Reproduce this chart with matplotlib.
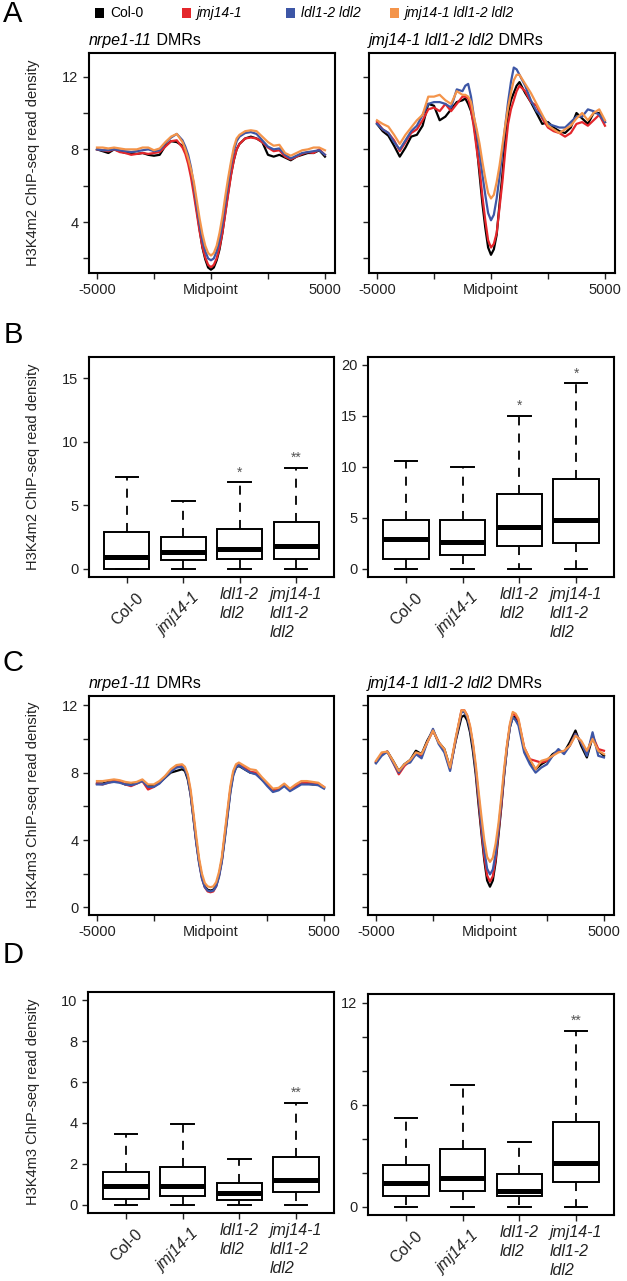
import numpy as np
import matplotlib
matplotlib.use('Agg')
import matplotlib.pyplot as plt
from matplotlib.patches import Rectangle
from matplotlib.transforms import ScaledTranslation

plt.rcParams['font.family'] = ['Liberation Sans', 'DejaVu Sans']

W, H = 627, 1281

# ---------------- data ----------------
genotypes = ['Col-0', 'jmj14-1', 'ldl1-2 ldl2', 'jmj14-1 ldl1-2 ldl2']
colors = ['#000000', '#e4262b', '#3d56a6', '#f4944a']

# profile positions (bp from DMR midpoint), finer around the midpoint
pos = [-5000, -4750, -4500, -4250, -4000, -3750, -3500, -3250, -3000, -2750, -2500, -2250, -2000, -1750, -1500,
       -1250, -1125, -1000, -875, -750, -625, -500, -375, -250, -125, 0, 125, 250, 375, 500, 625, 750, 875, 1000, 1125, 1250,
       1500, 1750, 2000, 2250, 2500, 2750, 3000, 3250, 3500, 3750, 4000, 4250, 4500, 4750, 5000]

# A, nrpe1-11 DMRs, H3K4m2
a_left = {
    'Col-0': [8.0, 7.9, 7.8, 8.0, 7.9, 7.8, 7.8, 7.75, 7.8, 7.7, 7.65, 7.7, 8.2, 8.45, 8.4,
              8.2, 7.9, 7.4, 6.7, 5.8, 4.7, 3.6, 2.6, 1.95, 1.5, 1.38, 1.5, 1.9, 2.5, 3.4, 4.5, 5.6, 6.6, 7.4, 8.0, 8.3,
              8.6, 8.7, 8.6, 8.4, 7.7, 7.6, 7.7, 7.55, 7.4, 7.6, 7.7, 7.8, 7.8, 7.95, 7.6],
    'jmj14-1': [8.0, 7.95, 7.9, 8.0, 7.85, 7.8, 7.7, 7.75, 7.8, 7.75, 7.8, 7.85, 8.15, 8.45, 8.5,
                8.1, 7.75, 7.2, 6.45, 5.5, 4.5, 3.5, 2.65, 2.05, 1.65, 1.52, 1.65, 2.0, 2.6, 3.4, 4.45, 5.5, 6.55, 7.4, 8.0, 8.3,
                8.6, 8.65, 8.6, 8.4, 8.1, 7.9, 7.95, 7.6, 7.45, 7.6, 7.75, 7.85, 7.8, 8.0, 7.7],
    'ldl1-2 ldl2': [8.0, 7.95, 7.95, 8.0, 7.95, 7.9, 7.85, 7.9, 7.95, 8.0, 7.9, 7.95, 8.35, 8.65, 8.85,
                    8.5, 8.15, 7.7, 7.0, 6.0, 4.9, 3.9, 3.0, 2.4, 2.0, 1.9, 2.0, 2.4, 3.0, 3.9, 5.0, 6.1, 7.1, 7.9, 8.45, 8.7,
                    8.9, 8.95, 8.85, 8.5, 8.15, 8.0, 8.05, 7.7, 7.5, 7.65, 7.8, 7.85, 7.9, 7.95, 7.7],
    'jmj14-1 ldl1-2 ldl2': [8.1, 8.1, 8.05, 8.1, 8.05, 8.0, 8.0, 8.0, 8.1, 8.1, 7.95, 8.05, 8.4, 8.7, 8.85,
                            8.4, 8.0, 7.5, 6.9, 6.2, 5.2, 4.2, 3.35, 2.7, 2.3, 2.16, 2.3, 2.7, 3.4, 4.3, 5.4, 6.4, 7.3, 8.1, 8.6, 8.8,
                            9.0, 9.05, 9.0, 8.7, 8.4, 8.2, 8.25, 7.8, 7.65, 7.8, 7.95, 8.0, 8.1, 8.1, 7.95],
}

# A, jmj14-1 ldl1-2 ldl2 DMRs, H3K4m2
a_right = {
    'Col-0': [9.4, 9.0, 8.75, 8.2, 7.6, 8.1, 8.7, 8.8, 9.3, 10.5, 10.4, 9.6, 9.8, 10.2, 10.6,
              10.7, 10.8, 10.5, 10.1, 9.4, 8.2, 6.6, 5.0, 3.7, 2.6, 2.2, 2.5, 3.3, 5.0, 6.6, 8.5, 10.0, 10.7, 11.1, 11.5, 11.7,
              11.1, 10.6, 10.0, 9.4, 9.5, 9.2, 9.0, 8.9, 9.2, 10.0, 9.7, 9.4, 10.0, 10.0, 9.5],
    'jmj14-1': [9.5, 9.1, 8.9, 8.5, 7.9, 8.4, 8.9, 9.1, 9.6, 10.2, 10.3, 10.1, 10.5, 10.1, 10.5,
                10.9, 10.9, 10.8, 10.2, 9.2, 8.0, 6.9, 5.4, 4.1, 3.0, 2.6, 2.8, 3.4, 4.8, 6.2, 7.9, 9.4, 10.2, 10.7, 11.2, 11.5,
                11.2, 10.6, 10.4, 9.7, 9.2, 9.0, 8.9, 8.7, 8.9, 9.4, 9.5, 9.3, 9.6, 9.9, 9.3],
    'ldl1-2 ldl2': [9.4, 9.1, 8.9, 8.4, 8.0, 8.5, 9.0, 9.3, 9.9, 10.5, 10.6, 10.6, 10.5, 10.3, 11.3,
                    11.2, 11.5, 11.6, 10.9, 9.8, 8.9, 7.8, 6.6, 5.5, 4.5, 4.1, 4.4, 5.3, 6.5, 7.9, 9.3, 10.6, 11.7, 12.5, 12.4, 12.1,
                    11.5, 10.7, 10.1, 9.8, 9.4, 9.3, 9.2, 9.2, 9.5, 9.8, 9.8, 10.2, 10.1, 9.9, 9.5],
    'jmj14-1 ldl1-2 ldl2': [9.6, 9.4, 9.25, 8.8, 8.3, 8.8, 9.2, 9.6, 9.9, 10.9, 10.9, 11.0, 10.7, 10.5, 11.2,
                            11.0, 11.0, 10.9, 10.6, 9.8, 9.1, 8.3, 7.3, 6.4, 5.6, 5.3, 5.5, 6.2, 7.1, 8.2, 9.3, 10.3, 11.1, 11.8, 12.1, 12.1,
                            11.6, 11.1, 10.5, 9.9, 9.3, 9.1, 8.9, 9.1, 9.3, 9.7, 10.0, 9.6, 10.0, 10.2, 9.6],
}

# C, nrpe1-11 DMRs, H3K4m3
c_left = {
    'Col-0': [7.35, 7.35, 7.45, 7.5, 7.45, 7.3, 7.3, 7.4, 7.55, 7.2, 7.2, 7.4, 7.7, 8.0, 8.1,
              8.2, 8.1, 7.6, 6.7, 5.3, 3.9, 2.7, 1.8, 1.25, 1.05, 1.0, 1.05, 1.3, 1.9, 2.8, 4.1, 5.5, 6.9, 7.9, 8.3, 8.4,
              8.2, 8.0, 7.95, 7.6, 7.3, 6.95, 7.0, 7.25, 6.95, 7.15, 7.35, 7.35, 7.3, 7.3, 7.1],
    'jmj14-1': [7.35, 7.3, 7.4, 7.5, 7.45, 7.3, 7.2, 7.35, 7.5, 7.0, 7.15, 7.4, 7.75, 8.1, 8.35,
                8.4, 8.25, 7.8, 6.8, 5.4, 3.9, 2.7, 1.75, 1.2, 0.95, 0.9, 0.95, 1.25, 1.9, 2.8, 4.2, 5.6, 7.0, 7.95, 8.4, 8.5,
                8.3, 8.05, 8.0, 7.65, 7.3, 6.9, 7.05, 7.3, 7.0, 7.2, 7.35, 7.4, 7.4, 7.35, 7.15],
    'ldl1-2 ldl2': [7.3, 7.3, 7.4, 7.45, 7.4, 7.3, 7.25, 7.35, 7.5, 7.15, 7.15, 7.35, 7.7, 8.05, 8.3,
                    8.35, 8.2, 7.7, 6.7, 5.3, 3.8, 2.6, 1.7, 1.2, 1.0, 0.95, 1.0, 1.25, 1.8, 2.7, 4.0, 5.4, 6.8, 7.8, 8.3, 8.45,
                    8.2, 8.0, 7.9, 7.6, 7.2, 6.85, 6.95, 7.2, 6.9, 7.1, 7.3, 7.3, 7.3, 7.25, 7.05],
    'jmj14-1 ldl1-2 ldl2': [7.5, 7.5, 7.55, 7.6, 7.55, 7.45, 7.4, 7.45, 7.6, 7.3, 7.3, 7.5, 7.8, 8.2, 8.45,
                            8.5, 8.35, 7.9, 7.0, 5.6, 4.2, 2.9, 2.0, 1.45, 1.25, 1.2, 1.25, 1.5, 2.1, 3.0, 4.4, 5.8, 7.2, 8.1, 8.5, 8.6,
                            8.4, 8.2, 8.15, 7.75, 7.4, 7.05, 7.1, 7.35, 7.05, 7.3, 7.5, 7.5, 7.45, 7.4, 7.15],
}

# C, jmj14-1 ldl1-2 ldl2 DMRs, H3K4m3
c_right = {
    'Col-0': [8.6, 9.1, 9.25, 8.7, 8.1, 8.5, 8.75, 9.3, 9.1, 9.9, 10.5, 9.8, 9.4, 8.3, 9.9,
              11.3, 11.4, 11.1, 10.4, 9.3, 7.9, 6.1, 4.4, 2.8, 1.6, 1.23, 1.6, 2.7, 4.3, 6.0, 7.9, 9.5, 10.7, 11.3, 11.3, 11.0,
              9.4, 8.7, 8.2, 8.5, 8.7, 9.1, 9.3, 9.2, 9.8, 10.5, 9.6, 8.9, 10.1, 9.3, 9.0],
    'jmj14-1': [8.65, 9.1, 9.25, 8.6, 7.9, 8.4, 8.7, 9.1, 9.0, 9.8, 10.5, 9.8, 9.3, 8.2, 10.0,
                11.7, 11.7, 11.4, 10.7, 9.7, 8.2, 6.4, 4.6, 3.0, 1.9, 1.53, 1.85, 2.9, 4.5, 6.1, 8.0, 9.6, 10.8, 11.5, 11.4, 11.1,
                9.5, 8.8, 8.7, 8.6, 8.7, 9.0, 9.3, 9.2, 9.6, 10.3, 9.8, 9.1, 10.2, 9.4, 9.3],
    'ldl1-2 ldl2': [8.55, 9.0, 9.25, 8.6, 8.0, 8.5, 8.6, 9.1, 8.85, 9.8, 10.6, 9.7, 9.2, 8.1, 10.0,
                    11.6, 11.6, 11.3, 10.6, 9.6, 8.2, 6.6, 4.9, 3.4, 2.3, 1.96, 2.25, 3.2, 4.7, 6.3, 8.0, 9.5, 10.7, 11.3, 11.1, 10.8,
                    9.2, 8.5, 8.0, 8.3, 8.5, 9.0, 9.4, 9.1, 9.6, 10.3, 9.8, 9.0, 10.4, 9.0, 8.9],
    'jmj14-1 ldl1-2 ldl2': [8.7, 9.2, 9.25, 8.7, 8.1, 8.5, 8.75, 9.2, 9.1, 9.8, 10.5, 9.8, 9.4, 8.3, 10.1,
                            11.7, 11.7, 11.4, 10.8, 9.8, 8.5, 6.9, 5.4, 4.0, 3.0, 2.7, 2.95, 3.8, 5.0, 6.6, 8.3, 9.7, 10.9, 11.6, 11.5, 11.2,
                            9.5, 8.8, 8.2, 8.7, 8.8, 9.0, 9.2, 9.3, 9.6, 10.2, 9.9, 9.3, 10.0, 9.3, 9.1],
}

# boxplot summaries: lower whisker, q1, median, q3, upper whisker
box_labels = ['Col-0', 'jmj14-1', 'ldl1-2\nldl2', 'jmj14-1\nldl1-2\nldl2']
b_left_whislo = [0, 0, 0, 0]
b_left_q1 = [0.0, 0.71, 0.76, 0.82]
b_left_med = [0.97, 1.37, 1.58, 1.84]
b_left_q3 = [2.9, 2.55, 3.16, 3.66]
b_left_whishi = [7.26, 5.34, 6.8, 7.95]
b_left_sig = ['', '', '*', '**']

b_right_whislo = [0, 0, 0, 0]
b_right_q1 = [0.95, 1.37, 2.19, 2.48]
b_right_med = [2.88, 2.61, 4.05, 4.74]
b_right_q3 = [4.77, 4.8, 7.32, 8.82]
b_right_whishi = [10.56, 9.93, 14.97, 18.17]
b_right_sig = ['', '', '*', '*']

d_left_whislo = [0, 0, 0, 0]
d_left_q1 = [0.29, 0.44, 0.25, 0.64]
d_left_med = [0.93, 0.93, 0.6, 1.21]
d_left_q3 = [1.59, 1.85, 1.05, 2.35]
d_left_whishi = [3.45, 3.94, 2.22, 5.0]
d_left_sig = ['', '', '', '**']

d_right_whislo = [0, 0, 0, 0]
d_right_q1 = [0.61, 0.94, 0.61, 1.42]
d_right_med = [1.4, 1.69, 0.94, 2.56]
d_right_q3 = [2.44, 3.41, 1.93, 4.98]
d_right_whishi = [5.22, 7.13, 3.82, 10.35]
d_right_sig = ['', '', '', '**']

fig = plt.figure(figsize=(W / 100, H / 100), dpi=100)


def add_ax(l, t, r, b):
    return fig.add_axes([l / W, 1 - b / H, (r - l) / W, (b - t) / H])


def style(ax):
    for s in ax.spines.values():
        s.set_linewidth(1.5)
    ax.tick_params(direction='out', length=4, width=1, labelsize=10.5, colors='#222222')


def profile(ax, data, ylim, yticks, ylabels, italic_title, show_labels=True):
    for g, c in zip(genotypes, colors):
        ax.plot(pos, data[g], color=c, lw=1.6)
    ax.set_xlim(-5350, 5440)
    ax.set_ylim(*ylim)
    ax.set_xticks([-5000, -2500, 0, 2500, 5000])
    ax.set_xticklabels(['-5000', '', 'Midpoint', '', '5000'])
    ax.set_yticks(yticks)
    ax.set_yticklabels(ylabels if show_labels else [''] * len(yticks))
    style(ax)
    # title: italic genotype + plain "DMRs"
    t1 = ax.text(0.0, 1.035, italic_title, transform=ax.transAxes, fontsize=11.5,
                 style='italic', ha='left', va='baseline')
    fig.canvas.draw()
    bb = t1.get_window_extent()
    x1 = ax.transAxes.inverted().transform((bb.x1, bb.y0))[0]
    ax.text(x1, 1.035, ' DMRs', transform=ax.transAxes, fontsize=11.5, ha='left', va='baseline')


def boxes(ax, whislo, q1, med, q3, whishi, sig, ylim, yticks, ylabels):
    stats = []
    for i in range(4):
        stats.append(dict(whislo=whislo[i], q1=q1[i], med=med[i], q3=q3[i], whishi=whishi[i], fliers=[]))
    ax.bxp(stats, positions=[1, 2, 3, 4], widths=0.8, showfliers=False, patch_artist=True,
           boxprops=dict(facecolor='white', edgecolor='black', linewidth=1.4),
           medianprops=dict(color='black', linewidth=3.6, solid_capstyle='butt'),
           whiskerprops=dict(color='black', linewidth=1.3, linestyle=(0, (5, 4.5))),
           capprops=dict(color='black', linewidth=1.4))
    for i, s in enumerate(sig):
        if s:
            ax.annotate(s, (i + 1, whishi[i]), xytext=(0, 2), textcoords='offset points',
                        ha='center', va='bottom', fontsize=10, color='#555555')
    ax.set_xlim(0.33, 4.67)
    ax.set_ylim(*ylim)
    ax.set_yticks(yticks)
    ax.set_yticklabels(ylabels)
    style(ax)
    ax.set_xticks([1, 2, 3, 4])
    ax.set_xticklabels(box_labels, fontsize=11.5)
    shift = ScaledTranslation(0.09, -0.03, fig.dpi_scale_trans)
    for i, lab in enumerate(ax.get_xticklabels()):
        if i > 0:
            lab.set_style('italic')
        if i < 2:
            lab.set_rotation(45)
            lab.set_rotation_mode('anchor')
            lab.set_ha('right')
            lab.set_va('top')
            lab.set_transform(lab.get_transform() + shift)
        else:
            lab.set_ha('center')
            lab.set_va('top')
            lab.set_multialignment('left')
            lab.set_linespacing(1.3)


# panel A
ax = add_ax(89, 53, 335, 273)
profile(ax, a_left, (1.2, 13.3), [2, 4, 6, 8, 10, 12], ['', '4', '', '8', '', '12'], 'nrpe1-11')
ax = add_ax(369, 53, 615, 273)
profile(ax, a_right, (1.2, 13.3), [2, 4, 6, 8, 10, 12], ['', '4', '', '8', '', '12'],
        'jmj14-1 ldl1-2 ldl2', show_labels=False)

# panel B
ax = add_ax(89, 357, 334, 577)
boxes(ax, b_left_whislo, b_left_q1, b_left_med, b_left_q3, b_left_whishi, b_left_sig,
      (-0.63, 16.65), [0, 5, 10, 15], ['0', '5', '10', '15'])
ax = add_ax(368, 357, 614, 577)
boxes(ax, b_right_whislo, b_right_q1, b_right_med, b_right_q3, b_right_whishi, b_right_sig,
      (-0.82, 20.75), [0, 5, 10, 15, 20], ['0', '5', '10', '15', '20'])

# panel C
ax = add_ax(89, 696, 334, 915)
profile(ax, c_left, (-0.45, 12.55), [0, 2, 4, 6, 8, 10, 12], ['0', '', '4', '', '8', '', '12'], 'nrpe1-11')
ax = add_ax(368, 696, 614, 915)
profile(ax, c_right, (-0.45, 12.55), [0, 2, 4, 6, 8, 10, 12], ['0', '', '4', '', '8', '', '12'],
        'jmj14-1 ldl1-2 ldl2', show_labels=False)

# panel D
ax = add_ax(88, 992, 334, 1213)
boxes(ax, d_left_whislo, d_left_q1, d_left_med, d_left_q3, d_left_whishi, d_left_sig,
      (-0.4, 10.4), [0, 2, 4, 6, 8, 10], ['0', '2', '4', '6', '8', '10'])
ax = add_ax(368, 994, 614, 1215)
boxes(ax, d_right_whislo, d_right_q1, d_right_med, d_right_q3, d_right_whishi, d_right_sig,
      (-0.5, 12.5), [0, 2, 4, 6, 8, 10, 12], ['0', '', '', '6', '', '', '12'])

# y labels and panel letters
for yc, txt in [(163, 'H3K4m2 ChIP-seq read density'), (467, 'H3K4m2 ChIP-seq read density'),
                (805, 'H3K4m3 ChIP-seq read density'), (1102, 'H3K4m3 ChIP-seq read density')]:
    fig.text(33 / W, 1 - yc / H, txt, rotation=90, ha='center', va='center', fontsize=10.5, color='#222222')

for yc, letter in [(14, 'A'), (335, 'B'), (663, 'C'), (955, 'D')]:
    fig.text(13 / W, 1 - yc / H, letter, ha='center', va='center', fontsize=21)

# legend on top
leg_x = [99, 186, 290, 394]
for x, g, c in zip(leg_x, genotypes, colors):
    fig.patches.append(Rectangle(((x - 4.5) / W, 1 - 17.5 / H), 9 / W, 9 / H,
                                 transform=fig.transFigure, facecolor=c, edgecolor='none'))
    fig.text((x + 11) / W, 1 - 13 / H, g, ha='left', va='center', fontsize=10,
             style='normal' if g == 'Col-0' else 'italic')

fig.savefig('out.png', dpi=100)
